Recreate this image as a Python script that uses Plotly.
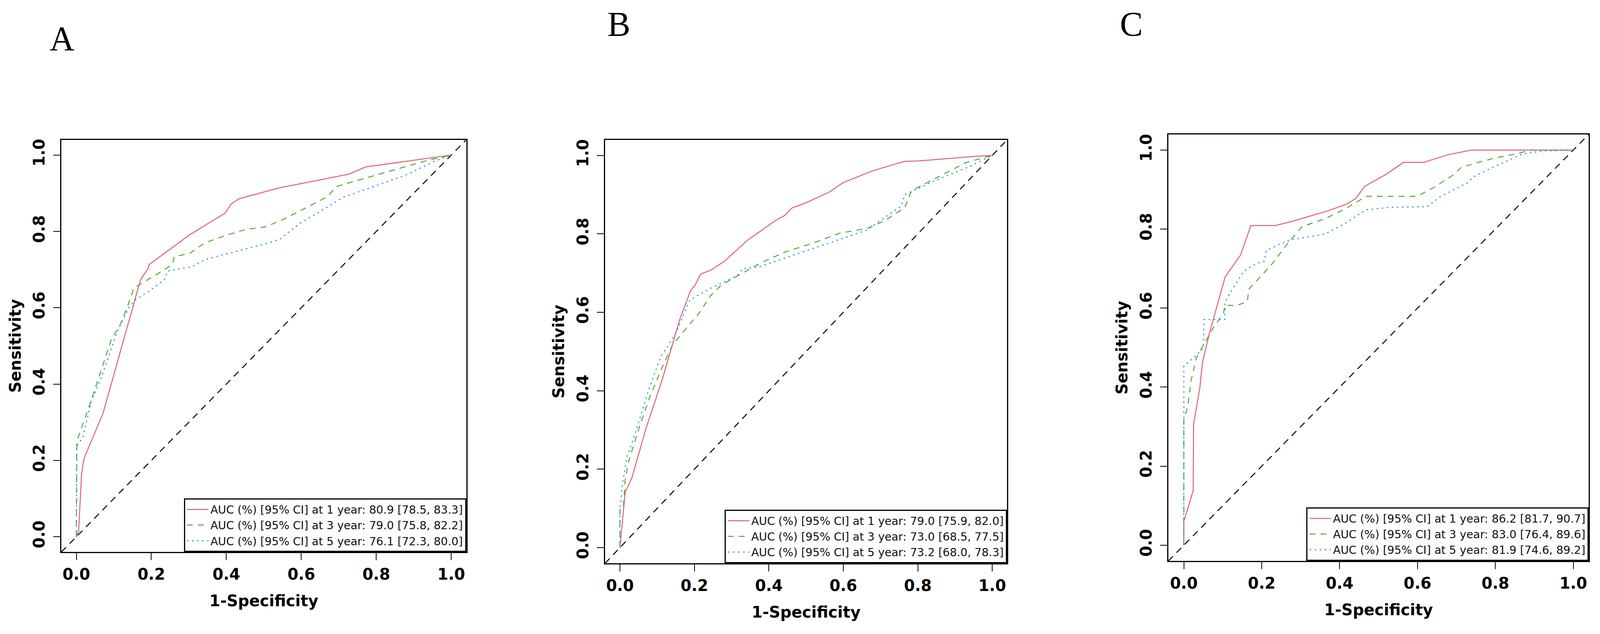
import plotly.graph_objects as go

# ---------------- data ----------------
years = [1, 3, 5]
panel_letters = ["A", "B", "C"]

auc_A = [80.9, 79.0, 76.1]
lo_A = [78.5, 75.8, 72.3]
hi_A = [83.3, 82.2, 80.0]
auc_B = [79.0, 73.0, 73.2]
lo_B = [75.9, 68.5, 68.0]
hi_B = [82.0, 77.5, 78.3]
auc_C = [86.2, 83.0, 81.9]
lo_C = [81.7, 76.4, 74.6]
hi_C = [90.7, 89.6, 89.2]

# Panel A curves (1-specificity, sensitivity)
A1_fpr = [0, 0.006, 0.014, 0.017, 0.021, 0.071, 0.171, 0.192, 0.194, 0.302, 0.397, 0.413, 0.433, 0.537, 0.727, 0.772, 1.0]
A1_tpr = [0, 0.016, 0.164, 0.185, 0.207, 0.323, 0.673, 0.704, 0.713, 0.791, 0.848, 0.872, 0.885, 0.913, 0.950, 0.969, 1.0]
A3_fpr = [0, 0.001, 0.035, 0.071, 0.094, 0.117, 0.135, 0.153, 0.171, 0.234, 0.257, 0.261, 0.302, 0.343, 0.397, 0.452, 0.505, 0.551, 0.668, 0.695, 0.772, 0.858, 0.940, 1.0]
A3_tpr = [0, 0.249, 0.344, 0.450, 0.519, 0.556, 0.599, 0.651, 0.662, 0.699, 0.715, 0.734, 0.742, 0.770, 0.789, 0.805, 0.812, 0.831, 0.890, 0.918, 0.940, 0.964, 0.987, 1.0]
A5_fpr = [0, 0.001, 0.017, 0.040, 0.071, 0.108, 0.139, 0.157, 0.198, 0.234, 0.243, 0.307, 0.343, 0.415, 0.505, 0.542, 0.596, 0.668, 0.713, 0.795, 0.885, 0.958, 1.0]
A5_tpr = [0, 0.238, 0.260, 0.355, 0.429, 0.535, 0.599, 0.620, 0.646, 0.673, 0.696, 0.707, 0.726, 0.745, 0.768, 0.779, 0.821, 0.863, 0.890, 0.918, 0.950, 0.985, 1.0]

# Panel B curves
B1_fpr = [0, 0.006, 0.014, 0.032, 0.069, 0.114, 0.160, 0.190, 0.201, 0.217, 0.243, 0.279, 0.343, 0.389, 0.416, 0.444, 0.462, 0.499, 0.563, 0.600, 0.682, 0.765, 0.802, 0.957, 1.0]
B1_tpr = [0, 0.064, 0.141, 0.178, 0.301, 0.430, 0.580, 0.656, 0.668, 0.698, 0.707, 0.729, 0.784, 0.815, 0.833, 0.848, 0.866, 0.879, 0.907, 0.931, 0.962, 0.985, 0.986, 0.998, 1.0]
B3_fpr = [0, 0.0, 0.009, 0.014, 0.023, 0.050, 0.078, 0.114, 0.142, 0.188, 0.215, 0.243, 0.270, 0.316, 0.380, 0.444, 0.517, 0.591, 0.664, 0.710, 0.765, 0.783, 0.866, 0.930, 1.0]
B3_tpr = [0, 0.097, 0.100, 0.172, 0.219, 0.301, 0.379, 0.461, 0.518, 0.570, 0.601, 0.642, 0.668, 0.693, 0.727, 0.754, 0.776, 0.802, 0.814, 0.833, 0.867, 0.910, 0.951, 0.982, 1.0]
B5_fpr = [0, 0.0, 0.006, 0.018, 0.041, 0.078, 0.110, 0.124, 0.151, 0.188, 0.243, 0.316, 0.330, 0.371, 0.417, 0.481, 0.563, 0.664, 0.737, 0.755, 0.765, 0.847, 0.939, 1.0]
B5_tpr = [0, 0.095, 0.157, 0.229, 0.291, 0.405, 0.488, 0.508, 0.549, 0.632, 0.661, 0.694, 0.712, 0.715, 0.730, 0.751, 0.777, 0.810, 0.859, 0.870, 0.900, 0.936, 0.972, 1.0]

# Panel C curves
C1_fpr = [0, 0.0, 0.024, 0.025, 0.041, 0.048, 0.067, 0.106, 0.146, 0.172, 0.235, 0.276, 0.372, 0.420, 0.442, 0.464, 0.520, 0.564, 0.616, 0.677, 0.738, 1.0]
C1_tpr = [0, 0.061, 0.138, 0.306, 0.398, 0.464, 0.541, 0.679, 0.735, 0.809, 0.809, 0.819, 0.847, 0.864, 0.878, 0.908, 0.939, 0.969, 0.969, 0.988, 1.0, 1.0]
C3_fpr = [0, 0.0, 0.010, 0.019, 0.032, 0.050, 0.076, 0.102, 0.105, 0.137, 0.163, 0.167, 0.224, 0.268, 0.303, 0.364, 0.416, 0.468, 0.599, 0.643, 0.695, 0.712, 0.756, 0.799, 0.861, 0.887, 1.0]
C3_tpr = [0, 0.316, 0.352, 0.418, 0.474, 0.505, 0.551, 0.587, 0.607, 0.607, 0.617, 0.648, 0.709, 0.765, 0.806, 0.827, 0.852, 0.883, 0.883, 0.906, 0.939, 0.956, 0.969, 0.980, 0.992, 1.0, 1.0]
C5_fpr = [0, 0.0, 0.032, 0.050, 0.052, 0.105, 0.106, 0.128, 0.154, 0.189, 0.207, 0.211, 0.241, 0.276, 0.364, 0.416, 0.468, 0.529, 0.625, 0.660, 0.730, 0.743, 0.799, 0.869, 0.922, 1.0]
C5_tpr = [0, 0.454, 0.480, 0.500, 0.571, 0.571, 0.617, 0.653, 0.694, 0.714, 0.719, 0.745, 0.760, 0.773, 0.788, 0.816, 0.849, 0.855, 0.857, 0.883, 0.918, 0.932, 0.959, 0.990, 0.998, 1.0]

tick_vals = [0, 0.2, 0.4, 0.6, 0.8, 1.0]
tick_text = ["0.0", "0.2", "0.4", "0.6", "0.8", "1.0"]
axis_range = [-0.04, 1.04]

# ---------------- layout geometry ----------------
# The page is photographed in a 4096-px wide viewport; the body keeps its 8 px margin.
REF_W, REF_H = 4588, 1622
VIEW_W = 4096
SX = VIEW_W / REF_W
BODY = 8
FW, FH = VIEW_W - 2 * BODY, REF_H - 2 * BODY


def fx(x_ref):
    return (x_ref * SX - BODY) / FW


def fy(y_ref):
    return 1 - (y_ref - BODY) / FH


colors = ["#DF5F76", "#56A82A", "#2A9BDE"]
dashes = ["solid", "15px,13px", "4px,9px"]
widths = [2.5, 2.5, 2.8]

# plotting regions in reference pixels (left, right, top, bottom)
boxes = [(176, 1337, 356, 1412), (1735, 2888, 356, 1441), (3350, 4556, 342, 1435)]
# panel letters: centre x and top of the text box, reference pixels
letter_pos = [(178, 46), (1775, 9), (3244, 9)]

panels = [
    (auc_A, lo_A, hi_A, [(A1_fpr, A1_tpr), (A3_fpr, A3_tpr), (A5_fpr, A5_tpr)]),
    (auc_B, lo_B, hi_B, [(B1_fpr, B1_tpr), (B3_fpr, B3_tpr), (B5_fpr, B5_tpr)]),
    (auc_C, lo_C, hi_C, [(C1_fpr, C1_tpr), (C3_fpr, C3_tpr), (C5_fpr, C5_tpr)]),
]

fig = go.Figure()
layout = dict(
    width=FW, height=FH,
    margin=dict(l=0, r=0, t=0, b=0),
    paper_bgcolor="white", plot_bgcolor="white",
    showlegend=True,
    annotations=[],
)

tick_font = dict(family="DejaVu Sans", size=40, color="black", weight="bold")

for i, (auc, lo, hi, curves) in enumerate(panels):
    sfx = "" if i == 0 else str(i + 1)
    xa, ya = "x" + sfx, "y" + sfx
    leg = "legend" + sfx
    l, r, t, b = boxes[i]
    fig.add_trace(go.Scatter(x=axis_range, y=axis_range, mode="lines",
                             line=dict(color="black", width=2.5, dash="17px,13px"),
                             xaxis=xa, yaxis=ya, showlegend=False, hoverinfo="skip"))
    for k, (fxs, tys) in enumerate(curves):
        name = f"AUC (%) [95% CI] at {years[k]} year: {auc[k]:.1f} [{lo[k]:.1f}, {hi[k]:.1f}]"
        fig.add_trace(go.Scatter(x=fxs, y=tys, mode="lines", name=name,
                                 line=dict(color=colors[k], width=widths[k], dash=dashes[k]),
                                 xaxis=xa, yaxis=ya, legend=leg))
    common = dict(range=axis_range, showgrid=False, zeroline=False,
                  showline=True, mirror=True, linecolor="black", linewidth=3,
                  ticks="outside", ticklen=18, tickwidth=2, tickcolor="black",
                  tickvals=tick_vals, ticktext=tick_text, tickfont=tick_font)
    layout["xaxis" + sfx] = dict(common, domain=[fx(l), fx(r)], anchor=ya,
                                 ticklabelstandoff=2,
                                 title=dict(text="1-Specificity", font=tick_font, standoff=32))
    layout["yaxis" + sfx] = dict(common, domain=[fy(b), fy(t)], anchor=xa,
                                 tickangle=-90, ticklabelstandoff=6,
                                 title=dict(text="Sensitivity", font=tick_font, standoff=12))
    layout[leg] = dict(x=fx(r), y=fy(b), xanchor="right", yanchor="bottom",
                       bgcolor="white", bordercolor="black", borderwidth=3,
                       font=dict(family="DejaVu Sans", size=28.5, color="#111111"),
                       itemwidth=55, tracegroupgap=0)
    lx, ly = letter_pos[i]
    layout["annotations"].append(dict(text=panel_letters[i], x=fx(lx), y=fy(ly),
                                      xref="paper", yref="paper", showarrow=False,
                                      xanchor="center", yanchor="top",
                                      font=dict(family="Liberation Serif", size=88, color="black")))

fig.update_layout(**layout)
fig.write_html("out.html")
